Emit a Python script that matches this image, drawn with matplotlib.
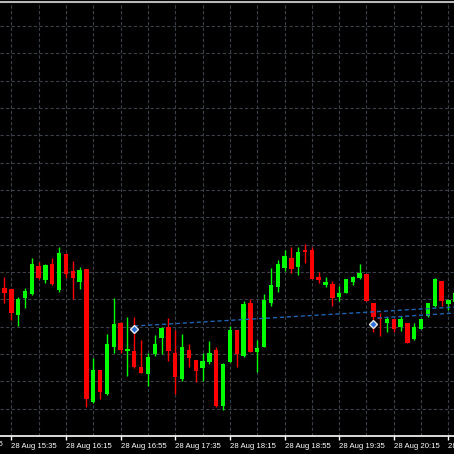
import numpy as np
import matplotlib
matplotlib.use("Agg")
import matplotlib.pyplot as plt

# 5-minute candles, 28 Aug, first bar 15:30 (prices in points, no scale shown)
bar_times = ["15:30", "15:35", "15:40", "15:45", "15:50", "15:55", "16:00", "16:05", "16:10", "16:15",
             "16:20", "16:25", "16:30", "16:35", "16:40", "16:45", "16:50", "16:55", "17:00", "17:05",
             "17:10", "17:15", "17:20", "17:25", "17:30", "17:35", "17:40", "17:45", "17:50", "17:55",
             "18:00", "18:05", "18:10", "18:15", "18:20", "18:25", "18:30", "18:35", "18:40", "18:45",
             "18:50", "18:55", "19:00", "19:05", "19:10", "19:15", "19:20", "19:25", "19:30", "19:35",
             "19:40", "19:45", "19:50", "19:55", "20:00", "20:05", "20:10", "20:15", "20:20", "20:25",
             "20:30", "20:35", "20:40", "20:45", "20:50", "20:55", "21:00"]
opens = [148, 147, 121, 138, 142, 170, 156, 172, 146, 182, 165, 154, 167, 34, 66, 42, 89, 113, 85, 85,
         69, 62, 82, 98, 109, 83, 57, 86, 76, 68, 74, 86, 30, 74, 106, 80, 133, 84, 89, 133,
         149, 168, 178, 169, 186, 186, 159, 151, 152, 139, 143, 154, 158, 162, 133, 118, 113, 117, 109, 113,
         97, 107, 120, 130, 155, 132, 134]
highs = [159, 147, 139, 148, 178, 174, 172, 178, 189, 183, 175, 169, 167, 78, 66, 102, 138, 114, 119, 119,
         96, 83, 101, 109, 118, 106, 102, 92, 76, 83, 95, 89, 73, 110, 106, 135, 137, 96, 142, 168,
         176, 186, 189, 189, 192, 189, 164, 159, 155, 150, 157, 160, 172, 162, 133, 123, 119, 117, 120, 113,
         113, 117, 133, 158, 155, 137, 146]
lows = [133, 116, 110, 128, 141, 157, 153, 151, 144, 158, 137, 147, 29, 33, 37, 41, 83, 83, 60, 68,
        63, 50, 80, 82, 75, 42, 55, 69, 54, 55, 72, 29, 26, 74, 69, 79, 84, 64, 89, 130,
        144, 165, 163, 161, 173, 157, 153, 149, 130, 135, 143, 151, 157, 135, 104, 100, 104, 104, 105, 93,
        96, 107, 119, 129, 130, 126, 131]
closes = [143, 123, 137, 145, 172, 158, 171, 152, 183, 162, 158, 166, 37, 66, 44, 92, 112, 86, 87, 69,
          63, 79, 92, 108, 85, 59, 89, 78, 65, 75, 83, 30, 72, 106, 82, 132, 84, 88, 136, 151,
          172, 180, 167, 184, 184, 157, 156, 154, 138, 143, 157, 159, 163, 135, 119, 117, 117, 107, 117, 93,
          109, 117, 133, 157, 135, 136, 143]

# trade markers and the dotted order lines
trade_bars = [19, 54]
trade_prices = [107, 112]
order_lines = [([19, 66], [110, 129]), ([54.6, 66], [118, 123])]

grid_step = 27.33
label_font = dict(family=["Liberation Sans", "DejaVu Sans"], fontsize=5.6, color="white")

fig = plt.figure(figsize=(4.54, 4.54), dpi=100, facecolor="black")
ax = fig.add_axes([0, 18 / 454, 1, 434 / 454], facecolor="black")

x = np.arange(len(opens))
o = np.array(opens, float)
c = np.array(closes, float)
up = c >= o
colors = np.where(up, "#00ff00", "#ff0000")

# grid
for k in range(1, 70, 4):
    ax.axvline(k, color="#3a3f48", lw=0.8, ls=(0, (3, 2)), zorder=0)
for n in range(1, 16):
    ax.axhline(n * grid_step, color="#3a3f48", lw=0.8, ls=(0, (3, 2)), zorder=0)

# candles
ax.vlines(x, lows, highs, colors=colors, lw=1.0, zorder=2)
body = c - o
small = np.abs(body) < 1.5
bottoms = np.where(small, (o + c) / 2 - 0.75, o)
heights = np.where(small, 1.5, body)
ax.bar(x, heights, bottom=bottoms, width=0.64, color=colors, linewidth=0, zorder=3)

for lx, ly in order_lines:
    ax.plot(lx, ly, color="#1e64b0", lw=1.0, ls=(0, (3, 2)), zorder=4)
ax.plot(trade_bars, trade_prices, ls="none", marker="D", ms=4.5,
        mfc="#2a70d8", mec="#e8e8e8", mew=1.0, zorder=5)

ax.set_xlim(-4.5 / 6.83, -4.5 / 6.83 + 454 / 6.83)
ax.set_ylim(0, 434)

# time axis
label_idx = list(range(1, len(bar_times), 8))
ax.set_xticks(label_idx)
ax.set_xticklabels(["28 Aug " + bar_times[i] for i in label_idx], **label_font)
for lbl in ax.get_xticklabels():
    lbl.set_ha("left")
ax.tick_params(axis="x", length=3, width=1, color="white", pad=2, direction="out")
ax.set_yticks([])
ax.text(-7, -0.0125, "28 Aug 14:55", transform=ax.get_xaxis_transform(), ha="left", va="top",
        clip_on=False, **label_font)

for side in ["left", "right"]:
    ax.spines[side].set_visible(False)
ax.spines["bottom"].set_color("white")
ax.spines["bottom"].set_linewidth(1.2)
ax.spines["top"].set_color("#b8b8b8")
ax.spines["top"].set_linewidth(1.5)

plt.savefig("out.png", dpi=100, facecolor="black")
plt.close()
